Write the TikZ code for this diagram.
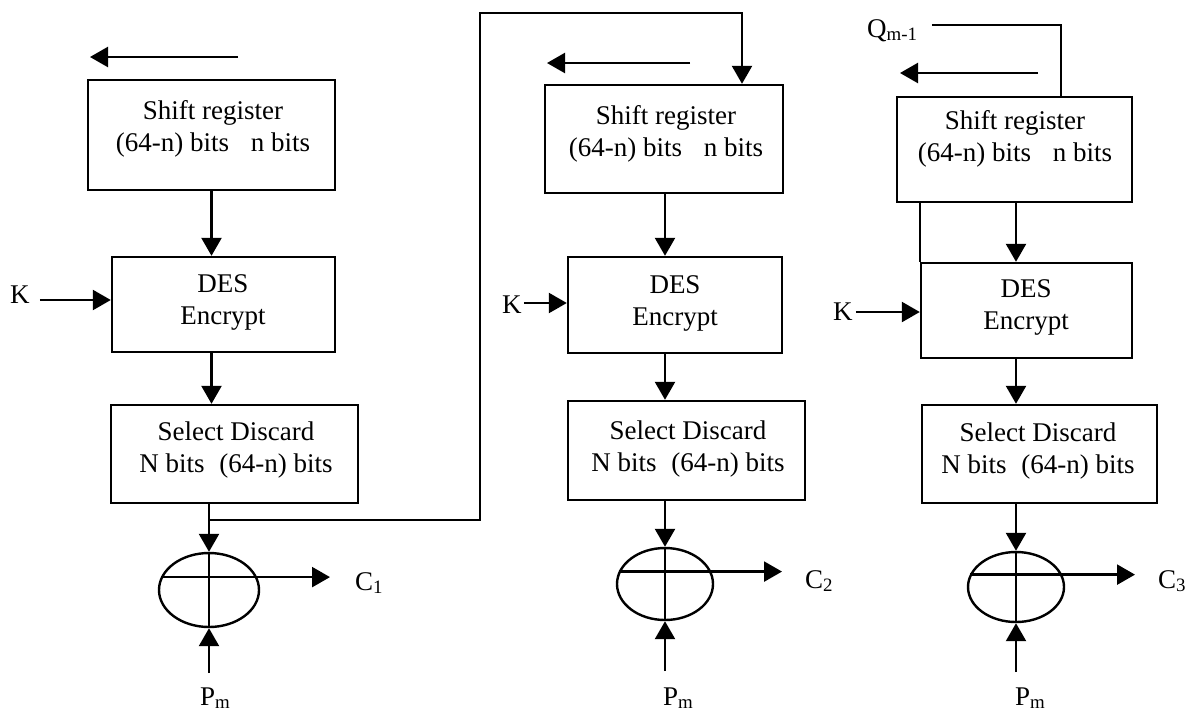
\documentclass[tikz,border=0pt]{standalone}
\usepackage{fontspec}
\setmainfont{Liberation Serif}
\usetikzlibrary{arrows.meta,shapes.geometric,calc}
\begin{document}
\begin{tikzpicture}[x=1pt,y=-1pt,
  box/.style={draw, rectangle, line width=2.4pt, inner sep=0pt},
  txt/.style={font=\fontsize{27}{32}\selectfont, align=center, inner sep=0pt},
  lbl/.style={font=\fontsize{27}{32}\selectfont, inner sep=0pt},
  wire/.style={line width=2.4pt},
  arr/.style={wire, -{Triangle[length=18pt,width=20pt]}},
  xor/.style={draw, ellipse, line width=2.4pt, inner sep=0pt},
]
\useasboundingbox (0,0) rectangle (1198,713);

% ---------- column 1 ----------
\node[box, minimum width=247pt, minimum height=110pt] (sr1) at (211.5,135) {};
\node[txt] (sr1t) at (213,128.5) {Shift register\\(64-n) bits\hspace{0.8em}n bits};
\node[box, minimum width=223pt, minimum height=95pt] (des1) at (223.5,304.5) {};
\node[txt] (des1t) at (223,302) {DES\\Encrypt};
\node[box, minimum width=247pt, minimum height=98pt] (sd1) at (234.5,454) {};
\node[txt] (sd1t) at (236,450) {Select Discard\\N bits\hspace{0.55em}(64-n) bits};
\node[xor, minimum width=100pt, minimum height=74pt] (e1) at (209,590) {};
\node[lbl, anchor=base west] (k1) at (10,303) {K};
\node[lbl, anchor=base west] (c1) at (355,590) {C\textsubscript{1}};
\node[lbl, anchor=base west] (p1) at (200,705) {P\textsubscript{m}};

\coordinate (s1a) at (238,57); \coordinate (s1b) at (90,57);
\draw[arr] (s1a) -- (s1b);
\draw[arr] (sr1.south) -- (sr1.south |- des1.north);
\draw[arr] (sr1.south |- des1.south) -- (sr1.south |- sd1.north);
\draw[arr] (e1.north |- sd1.south) -- (e1.north);
\draw[arr, shorten <=10pt] (k1.east |- 0,300) -- (des1.west |- 0,300);
\draw[wire] (e1.north) -- (e1.south);
\draw[wire] (e1.165) -- (e1.15);
\draw[arr, shorten >=25pt] (e1.15) -- (c1.west |- e1.15);
\draw[arr] (e1.south |- 0,673) -- (e1.south);

% feedback from column 1 to column 2
\coordinate (f0) at (209,520); \coordinate (f1) at (480,520);
\coordinate (f2) at (480,13);  \coordinate (f3) at (742,13);

% ---------- column 2 ----------
\node[box, minimum width=238pt, minimum height=108pt] (sr2) at (664,139) {};
\node[txt] (sr2t) at (666,134) {Shift register\\(64-n) bits\hspace{0.8em}n bits};
\node[box, minimum width=214pt, minimum height=96pt] (des2) at (675,305) {};
\node[txt] (des2t) at (675,303) {DES\\Encrypt};
\node[box, minimum width=237pt, minimum height=99pt] (sd2) at (686.5,450.5) {};
\node[txt] (sd2t) at (688,449) {Select Discard\\N bits\hspace{0.55em}(64-n) bits};
\node[xor, minimum width=96pt, minimum height=72pt] (e2) at (665,584) {};
\node[lbl, anchor=base west] (k2) at (502,313) {K};
\node[lbl, anchor=base west] (c2) at (805,588) {C\textsubscript{2}};
\node[lbl, anchor=base west] (p2) at (663,705) {P\textsubscript{m}};

\draw[arr] (f0) -- (f1) -- (f2) -- (f3) -- (f3 |- sr2.north);

\coordinate (s2a) at (690,63); \coordinate (s2b) at (547,63);
\draw[arr] (s2a) -- (s2b);
\draw[arr] (e2.north |- sr2.south) -- (e2.north |- des2.north);
\draw[arr] (e2.north |- des2.south) -- (e2.north |- sd2.north);
\draw[arr] (e2.north |- sd2.south) -- (e2.north);
\draw[arr, shorten <=2pt] (k2.east |- 0,303) -- (des2.west |- 0,303);
\draw[wire] (e2.north) -- (e2.south);
\draw[wire] (e2.165) -- (e2.15);
\draw[arr, shorten >=23pt] (e2.15) -- (c2.west |- e2.15);
\draw[arr] (e2.south |- 0,671) -- (e2.south);

% ---------- column 3 ----------
\node[box, minimum width=235pt, minimum height=105pt] (sr3) at (1014.5,149.5) {};
\node[txt] (sr3t) at (1015,139) {Shift register\\(64-n) bits\hspace{0.8em}n bits};
\node[box, minimum width=211pt, minimum height=95pt] (des3) at (1026.5,310.5) {};
\node[txt] (des3t) at (1026,307) {DES\\Encrypt};
\node[box, minimum width=235pt, minimum height=98pt] (sd3) at (1039.5,454) {};
\node[txt] (sd3t) at (1038,451) {Select Discard\\N bits\hspace{0.55em}(64-n) bits};
\node[xor, minimum width=96pt, minimum height=70pt] (e3) at (1016,587) {};
\node[lbl, anchor=base west] (k3) at (833,320) {K};
\node[lbl, anchor=base west] (c3) at (1158,588) {C\textsubscript{3}};
\node[lbl, anchor=base west] (p3) at (1015,705) {P\textsubscript{m}};
\node[lbl, anchor=base west] (q) at (867,37) {Q\textsubscript{m-1}};

\coordinate (qc) at (1061,25);
\draw[wire] ([xshift=14pt]q.east |- qc) -- (qc) -- (qc |- sr3.north);
\coordinate (s3a) at (1038,73); \coordinate (s3b) at (900,73);
\draw[arr] (s3a) -- (s3b);
\draw[wire] (des3.north west) -- (des3.north west |- sr3.south);
\draw[arr] (e3.north |- sr3.south) -- (e3.north |- des3.north);
\draw[arr] (e3.north |- des3.south) -- (e3.north |- sd3.north);
\draw[arr] (e3.north |- sd3.south) -- (e3.north);
\draw[arr, shorten <=3pt] (k3.east |- 0,312) -- (des3.west |- 0,312);
\draw[wire] (e3.north) -- (e3.south);
\draw[wire] (e3.165) -- (e3.15);
\draw[arr, shorten >=23pt] (e3.15) -- (c3.west |- e3.15);
\draw[arr] (e3.south |- 0,672) -- (e3.south);
\end{tikzpicture}
\end{document}
